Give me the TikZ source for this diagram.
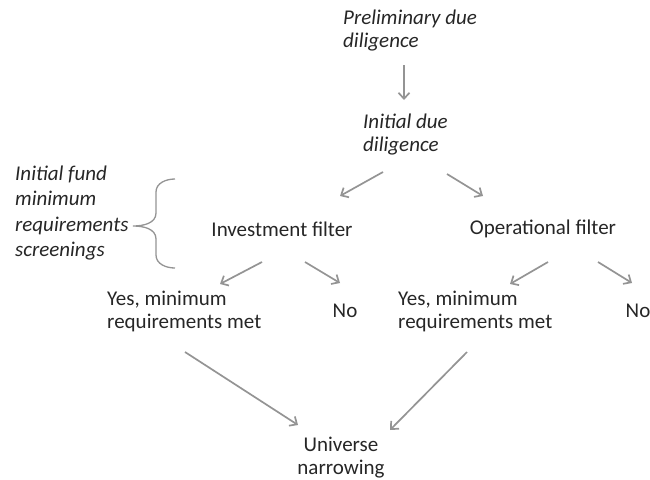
\documentclass[tikz,border=0pt]{standalone}
\usepackage{fontspec}
\setmainfont{Carlito}
\usetikzlibrary{arrows.meta,positioning,calc}

\begin{document}
\begin{tikzpicture}[x=1pt,y=-1pt, font=\fontsize{21}{23}\selectfont,
  lbl/.style={inner sep=0pt, align=left, text=black!85},
  itlbl/.style={lbl, font=\fontsize{21}{23}\selectfont\itshape},
  arr/.style={-{Straight Barb[length=6pt,width=11pt]}, line width=1.7pt, draw=black!42}]
\useasboundingbox (0,0) rectangle (650,479);

% stages
\node[itlbl, anchor=west] (prelim) at (343,31) {Preliminary due\\diligence};
\node[itlbl, anchor=west] (initdd) at (363,135) {Initial due\\diligence};
\node[lbl] (invf) at (282,229) {Investment filter};
\node[lbl] (opf) at (543,229) {Operational filter};
\node[lbl, anchor=west] (invyes) at (107,311) {Yes, minimum\\requirements met};
\node[lbl] (invno) at (345,311) {No};
\node[lbl, anchor=west] (opyes) at (398,311) {Yes, minimum\\requirements met};
\node[lbl] (opno) at (638,311) {No};
\node[lbl, align=center] (univ) at (341,458) {Universe\\narrowing};

% side note
\node[itlbl, anchor=west, font=\fontsize{21}{25.5}\selectfont\itshape] (screen) at (15,213)
  {Initial fund\\minimum\\requirements\\screenings};

% brace
\draw[black!42, line width=1.3pt] (175,179) to[out=180,in=90] (156,192) -- (156,213)
  to[out=270,in=0] (133,226) to[out=0,in=90] (156,239) -- (156,255)
  to[out=270,in=180] (175,268);

% arrows
\draw[arr] ($(prelim.west)+(61,34)$) -- ($(initdd.west)+(41,-35)$);
\draw[arr] ($(initdd.west)+(20,37)$) -- ($(invf)+(58,-33)$);
\draw[arr] ($(initdd.west)+(84,39)$) -- ($(opf)+(-60,-33)$);
\draw[arr] ($(invf)+(-20,33)$) -- ($(invyes.west)+(113,-27)$);
\draw[arr] ($(invf)+(23,33)$) -- ($(invno)+(-5,-28)$);
\draw[arr] ($(opf)+(5,33)$) -- ($(opyes.west)+(112,-27)$);
\draw[arr] ($(opf)+(55,33)$) -- ($(opno)+(-6,-28)$);
\draw[arr] ($(invyes.west)+(78,41)$) -- ($(univ)+(-43,-33)$);
\draw[arr] ($(opyes.west)+(69,41)$) -- ($(univ)+(49,-28)$);
\end{tikzpicture}
\end{document}
